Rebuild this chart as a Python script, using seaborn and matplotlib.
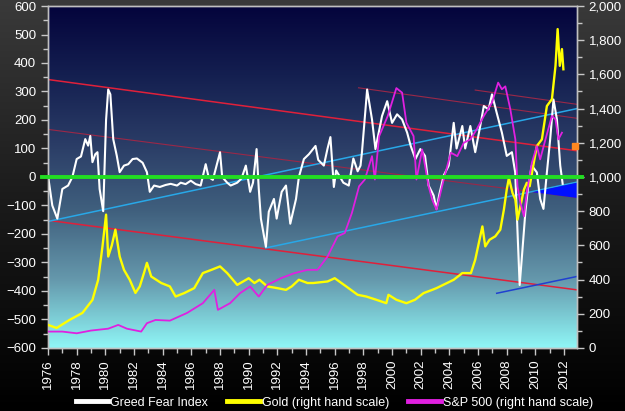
import numpy as np
import matplotlib
matplotlib.use("Agg")
import matplotlib.pyplot as plt
from matplotlib.colors import LinearSegmentedColormap
from matplotlib.lines import Line2D
from matplotlib.ticker import MultipleLocator, FuncFormatter
import seaborn as sns

# Greed Fear Index (left scale)
gf_year = [1976.0, 1976.3, 1976.65, 1977.0, 1977.4, 1977.7, 1978.0, 1978.3, 1978.6, 1978.8,
           1978.95, 1979.1, 1979.3, 1979.45, 1979.6, 1979.85, 1980.05, 1980.2, 1980.35, 1980.55,
           1980.8, 1981.0, 1981.3, 1981.6, 1981.9, 1982.2, 1982.6, 1982.9, 1983.1, 1983.4,
           1983.8, 1984.2, 1984.56, 1985.0, 1985.26, 1985.6, 1985.96, 1986.3, 1986.65, 1987.0,
           1987.2, 1987.5, 1988.0, 1988.15, 1988.5, 1988.74, 1989.2, 1989.5, 1989.8, 1990.1,
           1990.3, 1990.55, 1990.7, 1990.85, 1991.2, 1991.4, 1991.76, 1991.95, 1992.3, 1992.6,
           1992.9, 1993.3, 1993.5, 1993.85, 1994.2, 1994.66, 1994.85, 1995.24, 1995.5, 1995.7,
           1995.94, 1996.1, 1996.6, 1996.98, 1997.3, 1997.6, 1997.8, 1997.9, 1998.26, 1998.6,
           1998.84, 1999.3, 1999.66, 2000.0, 2000.35, 2000.7, 2001.05, 2001.3, 2001.63, 2001.97,
           2002.3, 2002.55, 2002.9, 2003.1, 2003.3, 2003.6, 2003.95, 2004.3, 2004.5, 2004.9,
           2005.1, 2005.46, 2005.8, 2006.15, 2006.4, 2006.73, 2006.97, 2007.3, 2007.66, 2008.0,
           2008.36, 2008.59, 2008.75, 2008.9, 2009.05, 2009.3, 2009.5, 2009.75, 2010.1, 2010.33,
           2010.56, 2010.8, 2011.03, 2011.26, 2011.5, 2011.73, 2011.9]
gf_val = [5, -100, -146, -42, -30, 0, 63, 72, 133, 110,
          144, 52, 80, 87, -42, -120, 200, 307, 290, 133,
          74, 17, 40, 45, 63, 65, 50, 17, -52, -30,
          -35, -28, -24, -30, -20, -25, -13, -25, -30, 45,
          0, -10, 87, 0, -20, -30, -20, -5, 40, -52,
          -20, 98, -40, -146, -245, -122, -77, -146, -52, -30,
          -164, -77, 0, 63, 80, 109, 60, 40, 100, 140,
          -35, 23, -20, -30, 65, 20, 40, 87, 307, 202,
          98, 214, 266, 190, 220, 202, 156, 109, 63, 98,
          74, -30, -65, -112, -60, 5, 40, 190, 100, 179,
          100, 179, 87, 179, 249, 237, 290, 225, 156, 74,
          87, 16, -192, -379, -285, -122, -30, 40, 16, -77,
          -112, 16, 133, 272, 202, 40, -24]

# Gold (right scale)
gold_year = [1976.0, 1976.6, 1977.5, 1978.4, 1979.1, 1979.5, 1979.8, 1980.05, 1980.2, 1980.45,
             1980.7, 1981.0, 1981.3, 1981.7, 1982.1, 1982.4, 1982.7, 1982.9, 1983.2, 1983.9,
             1984.5, 1984.9, 1985.5, 1986.2, 1986.8, 1987.4, 1988.0, 1988.5, 1989.2, 1990.0,
             1990.4, 1990.75, 1991.3, 1992.0, 1992.6, 1993.0, 1993.5, 1994.1, 1994.5, 1995.5,
             1996.0, 1996.8, 1997.6, 1998.2, 1998.9, 1999.6, 1999.75, 2000.3, 2001.0, 2001.6,
             2002.2, 2002.8, 2003.1, 2004.3, 2004.9, 2005.5, 2005.8, 2006.3, 2006.5, 2006.8,
             2007.2, 2007.55, 2007.8, 2008.0, 2008.15, 2008.4, 2008.6, 2008.75, 2008.95, 2009.2,
             2009.4, 2009.6, 2009.8, 2010.1, 2010.45, 2010.8, 2011.15, 2011.4, 2011.55, 2011.7,
             2011.85, 2011.95]
gold_val = [135, 117, 164, 205, 281, 399, 594, 780, 535, 600,
            692, 535, 457, 399, 322, 360, 440, 498, 418, 380,
            360, 301, 321, 350, 438, 457, 477, 438, 369, 408,
            380, 399, 360, 350, 340, 360, 399, 380, 380, 389,
            408, 360, 311, 301, 282, 262, 311, 282, 262, 282,
            321, 340, 350, 399, 438, 438, 516, 711, 594, 633,
            653, 692, 809, 927, 995, 907, 868, 751, 829, 927,
            966, 946, 1044, 1181, 1220, 1415, 1455, 1650, 1865, 1650,
            1748, 1630]

# S&P 500 (right scale)
spx_year = [1976.0, 1977.0, 1978.0, 1979.0, 1980.2, 1980.9, 1981.5, 1982.5, 1982.9, 1983.5,
            1984.5, 1984.9, 1985.7, 1986.8, 1987.6, 1987.85, 1988.7, 1989.4, 1990.1, 1990.7,
            1991.3, 1992.3, 1993.2, 1994.1, 1994.8, 1995.5, 1996.2, 1996.7, 1997.2, 1997.7,
            1998.1, 1998.6, 1998.8, 1999.1, 1999.7, 2000.3, 2000.7, 2001.0, 2001.5, 2001.7,
            2002.1, 2002.55, 2002.8, 2003.1, 2003.6, 2004.1, 2004.55, 2005.0, 2005.46, 2005.9,
            2006.4, 2006.97, 2007.4, 2007.66, 2007.9, 2008.25, 2008.6, 2008.75, 2008.95, 2009.2,
            2009.4, 2009.75, 2010.1, 2010.33, 2010.7, 2011.15, 2011.4, 2011.6, 2011.85]
spx_val = [96, 96, 86, 102, 113, 135, 113, 96, 145, 164,
           160, 175, 205, 262, 340, 223, 262, 321, 360, 301,
           369, 410, 438, 457, 457, 535, 653, 672, 790, 946,
           985, 1122, 985, 1239, 1357, 1520, 1493, 1317, 1239, 985,
           1161, 946, 868, 809, 985, 1142, 1122, 1200, 1220, 1278,
           1357, 1435, 1552, 1513, 1530, 1396, 1220, 946, 849, 770,
           907, 1083, 1181, 1103, 1220, 1357, 1337, 1220, 1259]

# channel lines on the left scale: [x0, y0, x1, y1]
red_upper = [1976.0, 342, 2012.9, 92]
red_lower = [1976.0, -152, 2012.9, -396]
dark_mid = [1976.0, 167, 2012.9, -72]
dark_top_a = [1997.66, 313, 2012.9, 206]
dark_top_b = [2005.8, 305, 2012.9, 255]
cyan_a = [1976.0, -156, 2012.9, 240]
cyan_b = [1991.18, -249, 2012.9, -18]
blue_low = [2007.3, -408, 2012.9, -349]
orange_mark = [2012.75, 1180]

fig = plt.figure(figsize=(6.25, 4.11), dpi=100)
plt.rcParams['font.family'] = ['Liberation Sans', 'DejaVu Sans']

# dark figure background
bg = fig.add_axes([0, 0, 1, 1], zorder=-10)
bg_cmap = LinearSegmentedColormap.from_list('bg', ['#3a3a3a', '#1a1a1a', '#000000'])
bg.imshow(np.linspace(0, 1, 256).reshape(-1, 1), aspect='auto', cmap=bg_cmap)
bg.axis('off')

ax = fig.add_axes([0.0768, 0.1533, 0.8464, 0.8321])
ax2 = ax.twinx()
x0, x1 = 1976.0, 2012.9

plot_cmap = LinearSegmentedColormap.from_list(
    'plot', ['#04043c', '#141f50', '#2a3c66', '#40607e', '#6598ac', '#8ff6f6'])
ax.imshow(np.linspace(0, 1, 256).reshape(-1, 1), aspect='auto', cmap=plot_cmap,
          extent=[x0, x1, -600, 600], zorder=0)

for ln, col, lw in [(red_upper, '#e0203a', 1.1), (red_lower, '#e0203a', 1.1),
                    (dark_mid, '#9a2848', 0.8), (dark_top_a, '#9a2848', 0.8),
                    (dark_top_b, '#9a2848', 0.8), (cyan_a, '#28a8e8', 1.1),
                    (cyan_b, '#28a8e8', 1.1), (blue_low, '#2040d0', 1.1)]:
    ax.plot([ln[0], ln[2]], [ln[1], ln[3]], color=col, lw=lw, zorder=2)

# blue wedge between the lower cyan line and the mid dark-red line
xs = np.linspace(2009.7, x1, 50)
cy = np.interp(xs, [cyan_b[0], cyan_b[2]], [cyan_b[1], cyan_b[3]])
ry = np.interp(xs, [dark_mid[0], dark_mid[2]], [dark_mid[1], dark_mid[3]])
ax.fill_between(xs, ry, cy, where=cy >= ry, color='#0010ff', lw=0, zorder=2)

sns.lineplot(x=gf_year, y=gf_val, ax=ax, color='white', lw=1.5, estimator=None, zorder=3)
sns.lineplot(x=gold_year, y=gold_val, ax=ax2, color='#ffff00', lw=1.7, estimator=None, zorder=3)
sns.lineplot(x=spx_year, y=spx_val, ax=ax2, color='#e020e0', lw=1.3, estimator=None, zorder=3)
ax2.plot([1975.6, 2013.25], [1000, 1000], color='#22dd22', lw=2.8, zorder=5, clip_on=False)
ax2.plot(orange_mark[0], orange_mark[1], marker='s', ms=5, color='#ff8820', zorder=5, clip_on=False)

ax.set_xlim(x0, x1)
ax.set_ylim(-600, 600)
ax2.set_ylim(0, 2000)

ax.xaxis.set_major_locator(MultipleLocator(2))
ax.xaxis.set_minor_locator(MultipleLocator(1))
ax.xaxis.set_major_formatter(FuncFormatter(lambda v, p: f'{int(v)}'))
ax.yaxis.set_major_locator(MultipleLocator(100))
ax.yaxis.set_minor_locator(MultipleLocator(50))
ax2.yaxis.set_major_locator(MultipleLocator(200))
ax2.yaxis.set_minor_locator(MultipleLocator(100))
ax2.yaxis.set_major_formatter(FuncFormatter(lambda v, p: f'{int(v):,}'))

for a in (ax, ax2):
    a.tick_params(which='both', colors='#c8c8c8', labelcolor='white', labelsize=9.5, width=1)
    a.tick_params(which='major', length=5)
    a.tick_params(which='minor', length=3.5)
    a.set_xlabel('')
    a.set_ylabel('')
    for s in a.spines.values():
        s.set_color('#c0c0c0')
        s.set_linewidth(1)
ax.tick_params(axis='x', labelrotation=90, labelsize=9.5, pad=3)

handles = [Line2D([], [], color='white', lw=3.5),
           Line2D([], [], color='#ffff00', lw=3.5),
           Line2D([], [], color='#e020e0', lw=3.5)]
labels = ['Greed Fear Index', 'Gold (right hand scale)', 'S&P 500 (right hand scale)']
fig.legend(handles, labels, loc='center', bbox_to_anchor=(0.535, 0.02), ncol=3,
           frameon=False, fontsize=9, labelcolor='white', handlelength=2.6,
           handletextpad=0.2, columnspacing=1.5)

fig.savefig('out.png', dpi=100)
